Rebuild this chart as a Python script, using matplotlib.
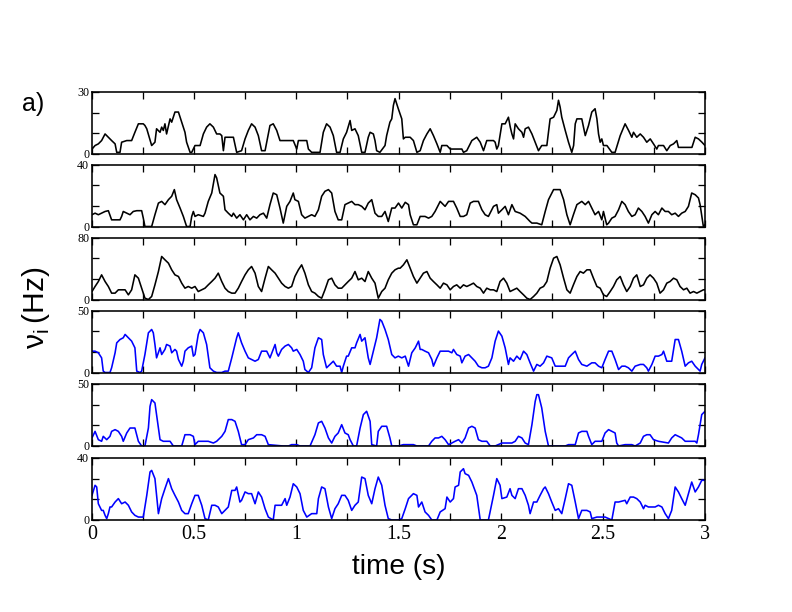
import numpy as np
import matplotlib
matplotlib.use("Agg")
import matplotlib.pyplot as plt
from matplotlib.ticker import MultipleLocator, FormatStrFormatter

# firing rates of six neurons, (time in s, rate in Hz)
p1 = [(0.000, 2.4), (0.015, 4.1), (0.031, 4.9), (0.047, 6.5), (0.064, 9.7), (0.080, 8.1), (0.096, 6.5),
      (0.113, 4.9), (0.121, 0.8), (0.137, 0.8), (0.145, 5.7), (0.170, 6.5), (0.194, 6.5), (0.210, 10.5),
      (0.227, 14.6), (0.251, 14.6), (0.259, 13.8), (0.268, 12.2), (0.292, 4.1), (0.308, 5.7), (0.316, 12.2),
      (0.333, 10.5), (0.341, 13.0), (0.349, 11.4), (0.357, 14.6), (0.365, 9.7), (0.382, 17.0), (0.390, 15.4),
      (0.406, 20.3), (0.423, 20.3), (0.439, 15.4), (0.455, 10.5), (0.463, 5.7), (0.480, 0.8), (0.488, 0.8),
      (0.504, 4.1), (0.529, 4.1), (0.545, 9.7), (0.561, 13.0), (0.577, 14.6), (0.594, 13.0), (0.610, 9.7),
      (0.626, 9.7), (0.635, 8.9), (0.643, 1.6), (0.651, 8.1), (0.692, 8.1), (0.708, 0.8), (0.732, 1.6),
      (0.749, 7.3), (0.765, 11.4), (0.781, 14.6), (0.798, 13.0), (0.814, 8.9), (0.830, 1.6), (0.847, 1.6),
      (0.855, 5.7), (0.871, 13.8), (0.887, 14.6), (0.904, 11.4), (0.920, 6.5), (0.945, 6.5), (0.985, 6.5),
      (1.002, 2.4), (1.010, 6.5), (1.051, 6.5), (1.059, 2.4), (1.075, 0.8), (1.116, 0.8), (1.132, 10.5),
      (1.148, 14.6), (1.165, 13.0), (1.181, 8.9), (1.197, 0.8), (1.214, 0.8), (1.230, 7.3), (1.246, 10.5),
      (1.263, 16.2), (1.271, 11.4), (1.287, 12.2), (1.303, 8.9), (1.320, 0.8), (1.336, 0.8), (1.352, 8.1),
      (1.361, 10.5), (1.377, 9.7), (1.385, 6.5), (1.393, 1.6), (1.409, 0.8), (1.434, 4.1), (1.442, 8.9),
      (1.458, 15.4), (1.467, 17.0), (1.475, 23.5), (1.483, 26.8), (1.491, 24.3), (1.499, 21.9),
      (1.516, 17.0), (1.524, 7.3), (1.533, 8.1), (1.557, 8.1), (1.573, 6.5), (1.590, 0.8), (1.606, 1.6),
      (1.622, 6.5), (1.639, 9.7), (1.655, 12.2), (1.671, 8.9), (1.688, 4.9), (1.704, 0.8), (1.712, 4.1),
      (1.737, 4.1), (1.753, 2.4), (1.810, 2.4), (1.818, 0.8), (1.834, 1.6), (1.859, 6.5), (1.883, 8.1),
      (1.900, 5.7), (1.916, 1.6), (1.932, 6.5), (1.965, 6.5), (1.973, 5.7), (1.981, 2.4), (1.989, 4.1),
      (2.006, 14.6), (2.022, 14.6), (2.038, 17.8), (2.047, 13.0), (2.055, 9.7), (2.063, 7.3), (2.071, 14.6),
      (2.087, 12.2), (2.104, 10.5), (2.112, 8.1), (2.120, 12.2), (2.136, 13.0), (2.153, 9.7), (2.169, 5.7),
      (2.185, 1.6), (2.201, 4.1), (2.226, 4.1), (2.242, 17.0), (2.259, 17.8), (2.275, 21.1), (2.283, 26.0),
      (2.291, 22.7), (2.299, 17.8), (2.316, 11.4), (2.332, 5.7), (2.348, 0.8), (2.357, 4.1), (2.365, 14.6),
      (2.373, 17.0), (2.397, 17.0), (2.414, 8.9), (2.430, 13.8), (2.446, 20.3), (2.462, 21.9), (2.471, 17.0),
      (2.479, 9.7), (2.487, 5.7), (2.495, 7.3), (2.503, 4.1), (2.520, 4.1), (2.544, 0.8), (2.560, 0.8),
      (2.585, 8.9), (2.609, 14.6), (2.626, 11.4), (2.642, 8.1), (2.650, 10.5), (2.666, 8.1), (2.683, 9.7),
      (2.699, 8.1), (2.715, 5.7), (2.732, 7.3), (2.748, 4.9), (2.764, 2.4), (2.772, 4.1), (2.797, 4.1),
      (2.813, 1.6), (2.830, 4.1), (2.846, 4.9), (2.862, 6.5), (2.870, 3.2), (2.936, 3.2), (2.952, 8.1),
      (2.968, 7.3), (2.985, 5.7), (3.000, 4.1)]

p2 = [(0.000, 7.6), (0.015, 8.6), (0.031, 7.6), (0.047, 8.6), (0.064, 9.7), (0.080, 10.2), (0.096, 4.3),
      (0.121, 4.3), (0.137, 4.3), (0.145, 6.5), (0.153, 9.7), (0.170, 8.6), (0.186, 7.6), (0.202, 9.7),
      (0.219, 10.2), (0.243, 10.2), (0.251, 5.4), (0.259, 0.0), (0.292, 0.0), (0.308, 7.6), (0.325, 15.1),
      (0.341, 16.2), (0.357, 14.1), (0.374, 17.3), (0.390, 19.5), (0.403, 23.8), (0.414, 17.3), (0.431, 11.9),
      (0.447, 6.5), (0.463, 0.0), (0.480, 0.0), (0.488, 6.5), (0.496, 9.7), (0.504, 6.5), (0.520, 7.6),
      (0.545, 6.5), (0.553, 8.6), (0.569, 16.2), (0.586, 21.6), (0.602, 33.5), (0.610, 31.4), (0.626, 21.6),
      (0.643, 19.5), (0.651, 10.8), (0.667, 8.6), (0.684, 6.5), (0.692, 8.6), (0.708, 5.4), (0.724, 7.6),
      (0.741, 4.3), (0.757, 7.6), (0.773, 4.3), (0.790, 6.5), (0.806, 5.4), (0.822, 7.6), (0.839, 8.6),
      (0.855, 5.4), (0.871, 14.1), (0.887, 21.6), (0.904, 20.5), (0.920, 11.9), (0.936, 2.2), (0.953, 13.0),
      (0.969, 16.2), (0.985, 21.6), (0.993, 17.3), (1.010, 16.2), (1.026, 7.6), (1.042, 5.4), (1.059, 6.5),
      (1.075, 7.6), (1.091, 6.5), (1.108, 10.8), (1.124, 19.5), (1.140, 22.7), (1.157, 23.8), (1.173, 21.6),
      (1.189, 9.7), (1.205, 4.3), (1.222, 4.3), (1.238, 14.1), (1.254, 15.1), (1.271, 16.2), (1.287, 14.1),
      (1.303, 14.1), (1.320, 13.0), (1.336, 10.8), (1.352, 15.1), (1.369, 17.3), (1.385, 8.6), (1.401, 6.5),
      (1.418, 6.5), (1.434, 9.7), (1.450, 3.2), (1.467, 11.9), (1.483, 11.9), (1.500, 15.1), (1.516, 11.9),
      (1.533, 15.6), (1.549, 14.1), (1.557, 7.6), (1.573, 1.1), (1.590, 1.1), (1.606, 6.5), (1.630, 6.5),
      (1.647, 5.4), (1.663, 6.5), (1.679, 9.7), (1.704, 16.2), (1.720, 14.1), (1.728, 13.0), (1.745, 16.2),
      (1.769, 16.2), (1.785, 11.9), (1.802, 6.5), (1.818, 6.5), (1.834, 7.6), (1.851, 15.1), (1.867, 16.2),
      (1.891, 16.2), (1.908, 10.8), (1.924, 7.6), (1.940, 6.5), (1.965, 13.0), (1.981, 14.1), (1.989, 8.6),
      (2.006, 10.8), (2.022, 13.0), (2.038, 7.6), (2.055, 14.1), (2.071, 9.7), (2.095, 8.6), (2.120, 6.5),
      (2.144, 3.2), (2.153, 2.2), (2.177, 2.2), (2.201, 1.1), (2.218, 9.7), (2.234, 17.3), (2.259, 23.8),
      (2.291, 23.8), (2.308, 17.3), (2.324, 7.6), (2.340, 1.1), (2.356, 7.6), (2.373, 14.1), (2.397, 16.2),
      (2.414, 14.1), (2.430, 16.2), (2.446, 11.9), (2.462, 7.6), (2.479, 9.7), (2.495, 4.3), (2.503, 9.7),
      (2.519, 1.1), (2.528, 2.2), (2.544, 5.4), (2.560, 6.5), (2.577, 10.8), (2.593, 16.2), (2.609, 14.1),
      (2.625, 9.7), (2.642, 6.5), (2.658, 7.6), (2.674, 11.9), (2.691, 9.7), (2.707, 6.5), (2.723, 2.2),
      (2.740, 7.6), (2.756, 9.7), (2.772, 7.6), (2.789, 11.9), (2.805, 9.7), (2.821, 9.7), (2.837, 7.6),
      (2.854, 8.6), (2.870, 6.5), (2.886, 8.6), (2.903, 9.7), (2.919, 13.0), (2.935, 21.6), (2.952, 20.5),
      (2.968, 18.4), (2.976, 14.1), (2.992, 0.0), (3.000, 1.1)]

p3 = [(0.000, 10.3), (0.015, 16.8), (0.031, 23.2), (0.047, 31.8), (0.064, 23.2), (0.080, 16.8), (0.096, 8.2),
      (0.113, 8.2), (0.129, 12.5), (0.145, 12.5), (0.162, 12.5), (0.178, 6.0), (0.194, 12.5), (0.210, 31.8),
      (0.227, 27.5), (0.243, 14.6), (0.259, 1.7), (0.276, 0.0), (0.292, 3.9), (0.308, 18.9), (0.325, 36.1),
      (0.341, 55.5), (0.357, 51.2), (0.374, 46.9), (0.390, 38.3), (0.406, 31.8), (0.423, 29.7), (0.439, 21.1),
      (0.455, 14.6), (0.471, 16.8), (0.488, 14.6), (0.504, 16.8), (0.520, 10.3), (0.537, 12.5), (0.553, 14.6),
      (0.569, 18.9), (0.586, 23.2), (0.602, 27.5), (0.618, 34.0), (0.635, 23.2), (0.651, 14.6), (0.667, 10.3),
      (0.684, 8.2), (0.700, 8.2), (0.716, 14.6), (0.732, 23.2), (0.749, 31.8), (0.765, 38.3), (0.781, 42.6),
      (0.798, 34.0), (0.814, 16.8), (0.830, 10.3), (0.847, 27.5), (0.863, 42.6), (0.879, 38.3), (0.896, 34.0),
      (0.912, 27.5), (0.928, 21.1), (0.945, 16.8), (0.961, 14.6), (0.977, 16.8), (0.993, 29.7), (1.010, 38.3),
      (1.026, 44.7), (1.042, 34.0), (1.059, 18.9), (1.075, 10.3), (1.091, 8.2), (1.108, 3.9), (1.124, 1.7),
      (1.140, 12.5), (1.157, 25.4), (1.173, 27.5), (1.189, 18.9), (1.205, 14.6), (1.222, 14.6), (1.238, 18.9),
      (1.254, 23.2), (1.271, 27.5), (1.287, 36.1), (1.303, 25.4), (1.320, 27.5), (1.336, 23.2), (1.352, 36.1),
      (1.369, 27.5), (1.385, 21.1), (1.401, 1.7), (1.418, 10.3), (1.434, 14.6), (1.450, 25.4), (1.467, 34.0),
      (1.483, 38.3), (1.499, 40.4), (1.508, 40.4), (1.524, 44.7), (1.541, 51.2), (1.557, 40.4), (1.573, 29.7),
      (1.590, 21.1), (1.606, 27.5), (1.622, 34.0), (1.639, 36.1), (1.655, 27.5), (1.671, 23.2), (1.688, 18.9),
      (1.704, 14.6), (1.720, 21.1), (1.737, 18.9), (1.753, 12.5), (1.769, 16.8), (1.785, 18.9), (1.802, 14.6),
      (1.818, 18.9), (1.834, 16.8), (1.851, 18.9), (1.867, 21.1), (1.883, 16.8), (1.900, 14.6), (1.916, 8.2),
      (1.932, 14.6), (1.949, 12.5), (1.965, 12.5), (1.981, 10.3), (1.997, 23.2), (2.014, 27.5), (2.030, 21.1),
      (2.046, 10.3), (2.063, 12.5), (2.079, 14.6), (2.095, 10.3), (2.112, 6.0), (2.128, 1.7), (2.144, 0.0),
      (2.161, 3.9), (2.177, 8.2), (2.193, 14.6), (2.210, 16.8), (2.226, 23.2), (2.242, 40.4), (2.259, 53.3),
      (2.275, 55.5), (2.291, 44.7), (2.308, 27.5), (2.324, 12.5), (2.340, 8.2), (2.356, 18.9), (2.373, 29.7),
      (2.389, 36.1), (2.405, 34.0), (2.422, 38.3), (2.438, 38.3), (2.454, 27.5), (2.471, 16.8), (2.487, 14.6),
      (2.503, 6.0), (2.519, 3.9), (2.536, 10.3), (2.552, 16.8), (2.568, 25.4), (2.585, 29.7), (2.601, 18.9),
      (2.617, 10.3), (2.634, 16.8), (2.650, 27.5), (2.666, 31.8), (2.683, 16.8), (2.699, 18.9), (2.715, 27.5),
      (2.731, 31.8), (2.748, 27.5), (2.764, 21.1), (2.780, 8.2), (2.797, 12.5), (2.813, 21.1), (2.829, 23.2),
      (2.846, 27.5), (2.862, 25.4), (2.878, 16.8), (2.895, 12.5), (2.911, 14.6), (2.927, 8.2), (2.944, 10.3),
      (2.960, 8.2), (2.976, 10.3), (2.992, 12.5), (3.000, 12.5)]

p4 = [(0.000, 17.2), (0.015, 17.2), (0.031, 15.9), (0.047, 11.8), (0.055, 1.1), (0.064, 0.0), (0.088, 0.0),
      (0.096, 3.8), (0.113, 15.9), (0.121, 23.9), (0.137, 26.6), (0.153, 28.0), (0.162, 30.7), (0.178, 28.0),
      (0.194, 25.3), (0.210, 19.9), (0.219, 1.1), (0.235, 0.0), (0.243, 1.1), (0.259, 14.5), (0.276, 32.0),
      (0.292, 34.7), (0.300, 32.0), (0.308, 22.6), (0.316, 11.8), (0.333, 19.9), (0.341, 14.5), (0.357, 18.6),
      (0.365, 22.6), (0.382, 21.3), (0.390, 15.9), (0.406, 18.6), (0.414, 17.2), (0.423, 10.5), (0.439, 5.1),
      (0.447, 9.1), (0.455, 17.2), (0.471, 19.9), (0.488, 21.3), (0.496, 13.2), (0.504, 14.5), (0.520, 30.7),
      (0.529, 34.7), (0.545, 32.0), (0.561, 22.6), (0.577, 3.8), (0.594, 1.1), (0.610, 0.0), (0.635, 0.0),
      (0.651, 1.1), (0.667, 1.1), (0.684, 11.8), (0.700, 22.6), (0.708, 28.0), (0.716, 32.0), (0.732, 23.9),
      (0.749, 17.2), (0.765, 11.8), (0.781, 10.5), (0.798, 9.1), (0.814, 10.5), (0.830, 17.2), (0.855, 17.2),
      (0.871, 11.8), (0.887, 18.6), (0.896, 22.6), (0.904, 15.9), (0.912, 13.2), (0.928, 18.6), (0.945, 21.3),
      (0.961, 22.6), (0.977, 19.9), (0.985, 17.2), (1.002, 18.6), (1.018, 14.5), (1.034, 9.1), (1.042, 2.4),
      (1.059, 0.0), (1.075, 3.8), (1.091, 19.9), (1.108, 28.0), (1.124, 26.6), (1.132, 14.5), (1.148, 3.8),
      (1.173, 7.8), (1.181, 9.1), (1.197, 5.1), (1.214, 5.1), (1.222, 0.0), (1.230, 5.1), (1.246, 13.2),
      (1.254, 13.2), (1.271, 19.9), (1.287, 19.9), (1.295, 23.9), (1.312, 30.7), (1.320, 25.3), (1.336, 28.0),
      (1.352, 11.8), (1.361, 6.5), (1.377, 17.2), (1.393, 28.0), (1.409, 42.8), (1.418, 41.4), (1.434, 34.7),
      (1.450, 26.6), (1.467, 14.5), (1.483, 11.8), (1.499, 13.2), (1.516, 11.8), (1.533, 13.2), (1.549, 5.1),
      (1.565, 15.9), (1.582, 19.9), (1.598, 25.3), (1.606, 18.6), (1.614, 18.6), (1.630, 17.2), (1.647, 15.9),
      (1.663, 10.5), (1.671, 5.1), (1.688, 11.8), (1.704, 17.2), (1.720, 17.2), (1.745, 17.2), (1.761, 15.9),
      (1.769, 18.6), (1.785, 14.5), (1.802, 13.2), (1.810, 7.8), (1.826, 13.2), (1.843, 14.5), (1.859, 11.8),
      (1.875, 9.1), (1.891, 5.1), (1.908, 3.8), (1.924, 3.8), (1.940, 5.1), (1.957, 11.8), (1.973, 25.3),
      (1.989, 33.4), (2.006, 29.3), (2.022, 19.9), (2.038, 6.5), (2.046, 11.8), (2.063, 9.1), (2.079, 13.2),
      (2.095, 10.5), (2.112, 17.2), (2.128, 14.5), (2.144, 7.8), (2.161, 1.1), (2.177, 6.5), (2.193, 5.1),
      (2.210, 7.8), (2.226, 13.2), (2.250, 11.8), (2.267, 5.1), (2.316, 5.1), (2.332, 11.8), (2.348, 14.5),
      (2.365, 17.2), (2.381, 10.5), (2.397, 6.5), (2.422, 5.1), (2.446, 7.8), (2.462, 7.8), (2.479, 5.1),
      (2.495, 3.8), (2.511, 10.5), (2.528, 17.2), (2.544, 17.2), (2.560, 10.5), (2.577, 2.4), (2.593, 5.1),
      (2.609, 5.1), (2.625, 3.8), (2.642, 1.1), (2.658, 5.1), (2.683, 6.5), (2.699, 6.5), (2.715, 3.8),
      (2.723, 1.1), (2.740, 6.5), (2.756, 13.2), (2.772, 13.2), (2.789, 14.5), (2.797, 17.2), (2.813, 9.1),
      (2.837, 9.1), (2.854, 26.6), (2.870, 26.6), (2.886, 17.2), (2.903, 5.1), (2.919, 7.8), (2.935, 9.1),
      (2.952, 5.1), (2.968, 2.4), (2.976, 1.1), (2.984, 6.5), (3.000, 11.8)]

p5 = [(0.000, 6.5), (0.015, 11.8), (0.031, 5.1), (0.047, 3.8), (0.055, 7.8), (0.072, 5.1), (0.088, 7.8),
      (0.096, 11.8), (0.113, 13.2), (0.129, 11.8), (0.145, 7.8), (0.153, 3.8), (0.170, 10.5), (0.186, 14.5),
      (0.210, 14.5), (0.227, 3.8), (0.243, 0.0), (0.259, 0.0), (0.276, 14.5), (0.284, 32.0), (0.292, 37.4),
      (0.308, 34.7), (0.316, 25.3), (0.333, 5.1), (0.349, 3.8), (0.382, 3.8), (0.398, 0.0), (0.439, 0.0),
      (0.455, 9.1), (0.480, 9.1), (0.496, 7.8), (0.504, 1.1), (0.520, 3.8), (0.569, 3.8), (0.594, 2.4),
      (0.610, 3.8), (0.635, 7.8), (0.651, 11.8), (0.667, 21.3), (0.684, 21.3), (0.700, 19.9), (0.716, 11.8),
      (0.732, 1.1), (0.749, 1.1), (0.765, 5.1), (0.790, 6.5), (0.806, 9.1), (0.830, 9.1), (0.847, 7.8),
      (0.863, 1.1), (0.936, 0.0), (0.961, 0.0), (0.977, 1.1), (1.002, 1.1), (1.018, 0.0), (1.067, 0.0),
      (1.091, 9.1), (1.108, 18.6), (1.124, 19.9), (1.140, 14.5), (1.157, 6.5), (1.173, 2.4), (1.189, 7.8),
      (1.205, 10.5), (1.222, 17.2), (1.238, 10.5), (1.254, 9.1), (1.263, 5.1), (1.279, 0.0), (1.295, 0.0),
      (1.312, 14.5), (1.328, 25.3), (1.344, 28.0), (1.361, 19.9), (1.369, 1.1), (1.393, 0.0), (1.401, 11.8),
      (1.418, 15.9), (1.442, 15.9), (1.458, 6.5), (1.467, 0.0), (1.499, 0.0), (1.524, 1.1), (1.573, 1.1),
      (1.590, 0.0), (1.647, 0.0), (1.663, 3.8), (1.679, 6.5), (1.696, 6.5), (1.712, 7.8), (1.728, 5.1),
      (1.745, 1.1), (1.761, 2.4), (1.777, 3.8), (1.794, 5.1), (1.810, 2.4), (1.826, 6.5), (1.843, 14.5),
      (1.859, 15.9), (1.875, 14.5), (1.891, 5.1), (1.908, 3.8), (1.932, 3.8), (1.949, 0.0), (1.973, 0.0),
      (2.006, 2.4), (2.055, 2.4), (2.071, 3.8), (2.087, 7.8), (2.104, 6.5), (2.120, 2.4), (2.136, 1.1),
      (2.153, 17.2), (2.169, 36.0), (2.177, 41.4), (2.185, 41.4), (2.201, 30.7), (2.218, 11.8), (2.234, 0.0),
      (2.316, 0.0), (2.332, 1.1), (2.365, 1.1), (2.381, 10.5), (2.397, 11.8), (2.422, 11.8), (2.430, 7.8),
      (2.446, 1.1), (2.462, 3.8), (2.495, 3.8), (2.511, 10.5), (2.528, 13.2), (2.544, 11.8), (2.560, 10.5),
      (2.568, 2.4), (2.577, 0.0), (2.609, 1.1), (2.642, 1.1), (2.658, 0.0), (2.683, 2.4), (2.699, 7.8),
      (2.715, 9.1), (2.731, 9.1), (2.748, 5.1), (2.772, 3.8), (2.821, 2.4), (2.837, 6.5), (2.854, 9.1),
      (2.870, 7.8), (2.886, 6.5), (2.903, 3.8), (2.952, 3.8), (2.960, 2.4), (2.968, 9.1), (2.984, 25.3),
      (3.000, 28.0)]

p6 = [(0.000, 15.9), (0.015, 22.4), (0.023, 21.3), (0.031, 10.5), (0.047, 6.2), (0.055, 6.2), (0.064, 3.0),
      (0.072, 0.9), (0.080, 4.1), (0.088, 8.4), (0.096, 8.4), (0.113, 11.6), (0.129, 13.8), (0.145, 10.5),
      (0.162, 11.6), (0.178, 9.5), (0.194, 5.2), (0.210, 3.0), (0.227, 1.9), (0.251, 1.9), (0.268, 15.9),
      (0.284, 31.0), (0.292, 32.0), (0.308, 26.7), (0.325, 4.1), (0.341, 13.8), (0.357, 20.2), (0.374, 26.7),
      (0.390, 20.2), (0.406, 15.9), (0.423, 11.6), (0.439, 6.2), (0.455, 4.1), (0.471, 4.1), (0.488, 10.5),
      (0.504, 15.9), (0.520, 15.9), (0.537, 9.5), (0.553, 0.9), (0.569, 0.0), (0.586, 9.5), (0.602, 9.5),
      (0.618, 8.4), (0.635, 4.1), (0.651, 6.2), (0.667, 8.4), (0.684, 19.1), (0.700, 19.1), (0.708, 21.3),
      (0.724, 11.6), (0.732, 12.7), (0.749, 18.1), (0.765, 17.0), (0.781, 17.0), (0.798, 10.5), (0.814, 18.1),
      (0.830, 14.8), (0.847, 7.3), (0.863, 1.9), (0.887, 0.0), (0.896, 9.5), (0.928, 9.5), (0.945, 13.8),
      (0.953, 9.5), (0.969, 14.8), (0.985, 23.4), (1.002, 21.3), (1.018, 17.0), (1.034, 6.2), (1.051, 1.9),
      (1.075, 4.1), (1.100, 4.1), (1.108, 13.8), (1.124, 21.3), (1.140, 20.2), (1.157, 8.4), (1.173, 0.9),
      (1.189, 7.3), (1.205, 10.5), (1.222, 15.9), (1.238, 15.9), (1.254, 12.7), (1.271, 6.2), (1.287, 9.5),
      (1.303, 11.6), (1.320, 27.7), (1.336, 26.7), (1.352, 15.9), (1.369, 10.5), (1.385, 20.2), (1.401, 27.7),
      (1.418, 22.4), (1.434, 9.5), (1.450, 0.9), (1.467, 0.0), (1.500, 0.0), (1.516, 0.9), (1.533, 7.3),
      (1.549, 13.8), (1.573, 17.0), (1.590, 15.9), (1.598, 8.4), (1.614, 11.6), (1.630, 5.2), (1.647, 3.0),
      (1.663, 0.0), (1.688, 0.0), (1.704, 5.2), (1.728, 7.3), (1.737, 14.8), (1.753, 11.6), (1.769, 13.8),
      (1.777, 21.3), (1.794, 22.4), (1.802, 31.0), (1.818, 33.1), (1.826, 29.9), (1.843, 28.8), (1.859, 24.5),
      (1.883, 15.9), (1.900, 0.0), (1.940, 0.0), (1.965, 15.9), (1.981, 26.7), (1.997, 22.4), (2.006, 13.8),
      (2.030, 14.8), (2.046, 20.2), (2.055, 15.9), (2.071, 13.8), (2.087, 20.2), (2.104, 20.2), (2.120, 15.9),
      (2.136, 9.5), (2.144, 4.1), (2.161, 11.6), (2.177, 11.6), (2.193, 15.9), (2.210, 20.2), (2.218, 21.3),
      (2.234, 17.0), (2.250, 11.6), (2.267, 6.2), (2.283, 7.3), (2.299, 4.1), (2.316, 13.8), (2.332, 23.4),
      (2.348, 22.4), (2.365, 11.6), (2.381, 0.9), (2.397, 6.2), (2.422, 6.2), (2.438, 5.2), (2.446, 0.9),
      (2.471, 1.9), (2.511, 1.9), (2.528, 0.9), (2.544, 0.0), (2.560, 11.6), (2.577, 11.6), (2.609, 12.7),
      (2.617, 10.5), (2.634, 14.8), (2.650, 14.8), (2.666, 13.8), (2.683, 11.6), (2.691, 9.5), (2.699, 7.3),
      (2.707, 9.5), (2.723, 8.4), (2.756, 8.4), (2.772, 9.5), (2.789, 8.4), (2.805, 4.1), (2.821, 0.9),
      (2.837, 6.2), (2.854, 21.3), (2.870, 18.1), (2.886, 13.8), (2.903, 9.5), (2.919, 17.0), (2.935, 24.5),
      (2.952, 18.1), (2.968, 21.3), (2.984, 25.6), (3.000, 25.6)]

series = [p1, p2, p3, p4, p5, p6]
ymax = [30, 40, 80, 50, 50, 40]
colors = ['black', 'black', 'black', 'blue', 'blue', 'blue']
xticks = [0, 0.5, 1, 1.5, 2, 2.5, 3]

plt.rcParams['font.family'] = 'Liberation Serif'
plt.rcParams['mathtext.fontset'] = 'custom'
plt.rcParams['mathtext.rm'] = 'Liberation Sans'

W, H = 792.0, 612.0
fig = plt.figure(figsize=(W / 72, H / 72), dpi=72)

# panel tops in pixels
tops = [92, 164.5, 237.5, 310.5, 384, 458]
ph = 62
left, right = 92, 705

axes = []
for k in range(6):
    ax = fig.add_axes([left / W, 1 - (tops[k] + ph) / H, (right - left) / W, ph / H])
    t, r = zip(*series[k])
    ax.plot(t, r, color=colors[k], lw=1.6)
    ax.set_xlim(0, 3)
    ax.set_ylim(0, ymax[k])
    ax.set_xticks(xticks)
    ax.xaxis.set_minor_locator(MultipleLocator(0.25))
    ax.set_yticks([0, ymax[k]])
    ax.yaxis.set_minor_locator(MultipleLocator(ymax[k] / 3))
    ax.tick_params(which='both', direction='in', top=True, right=True, length=7, width=1.3)
    ax.tick_params(axis='y', labelsize=12, pad=3)
    ax.tick_params(axis='x', labelsize=20, pad=5)
    for s in ax.spines.values():
        s.set_linewidth(1.6)
    if k < 5:
        ax.tick_params(axis='x', labelbottom=False)
    else:
        ax.xaxis.set_major_formatter(FormatStrFormatter('%g'))
    axes.append(ax)

axes[-1].set_xlabel('time (s)', fontsize=28, family='Liberation Sans', labelpad=10)
fig.text(36 / W, 1 - 308 / H, r'ν$_{\mathrm{i}}\,$(Hz)', fontsize=30, family='Liberation Sans',
         rotation=90, ha='center', va='center')
fig.text(22 / W, 1 - 104 / H, 'a)', fontsize=25, family='Liberation Sans', ha='left', va='center')

fig.savefig('out.png', dpi=72)
